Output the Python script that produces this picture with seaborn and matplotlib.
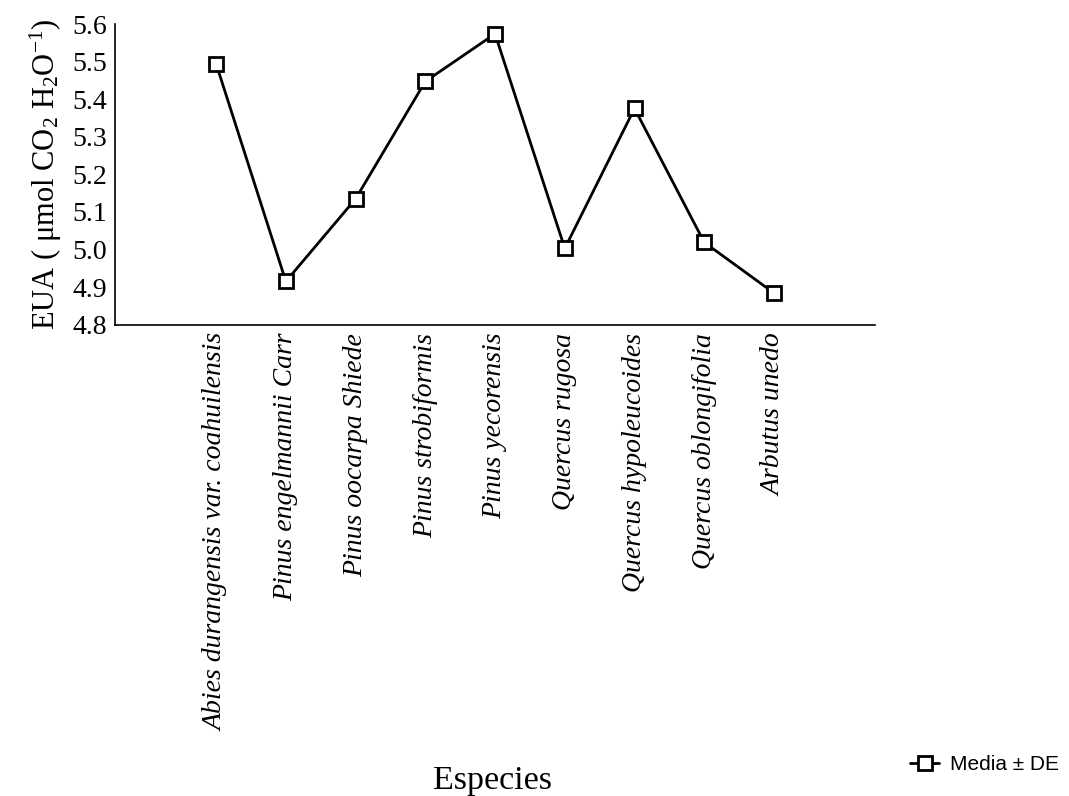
import matplotlib
matplotlib.use("Agg")
import matplotlib.pyplot as plt
import seaborn as sns
import pandas as pd
from matplotlib.lines import Line2D

species = [
    "Abies durangensis var. coahuilensis",
    "Pinus engelmannii Carr",
    "Pinus oocarpa Shiede",
    "Pinus strobiformis",
    "Pinus yecorensis",
    "Quercus rugosa",
    "Quercus hypoleucoides",
    "Quercus oblongifolia",
    "Arbutus unedo",
]
eua = [5.495, 4.915, 5.135, 5.448, 5.575, 5.003, 5.376, 5.019, 4.884]
yticks = [4.8, 4.9, 5.0, 5.1, 5.2, 5.3, 5.4, 5.5, 5.6]

sns.set_theme(style="white")
plt.rcParams["font.family"] = ["Liberation Serif", "DejaVu Serif"]
plt.rcParams["mathtext.fontset"] = "custom"
plt.rcParams["mathtext.rm"] = "Liberation Serif"
plt.rcParams["mathtext.it"] = "Liberation Serif:italic"
for k in ["text.color", "axes.labelcolor", "xtick.color", "ytick.color", "axes.edgecolor"]:
    plt.rcParams[k] = "black"

df = pd.DataFrame({"Especies": species, "EUA": eua})

fig = plt.figure(figsize=(10.69, 7.96), dpi=100)
ax = fig.add_axes([0.1076, 0.5923, 0.711, 0.377])

sns.lineplot(data=df, x="Especies", y="EUA", sort=False, ax=ax, color="black",
             linewidth=2.0, marker="s", markersize=10, markerfacecolor="white",
             markeredgecolor="black", markeredgewidth=2.0)

ax.set_xlim(-1.45, 9.45)
ax.set_ylim(4.8, 5.6)
ax.set_yticks(yticks)
ax.set_yticklabels([f"{v:.1f}" for v in yticks], fontsize=20)
ax.set_xticks(range(len(species)))
ax.set_xticklabels(species, rotation=90, fontsize=20, style="italic", va="top")
ax.tick_params(axis="both", length=0, pad=6)

for s in ["top", "right"]:
    ax.spines[s].set_visible(False)
for s in ["left", "bottom"]:
    ax.spines[s].set_color("black")
    ax.spines[s].set_linewidth(1.2)

ax.set_ylabel("EUA ( μmol CO$_2$ H$_2$O$^{-1}$)", fontsize=22, labelpad=6)
ax.set_xlabel("")
fig.text(0.461, 0.0, "Especies", fontsize=24.5, ha="center", va="bottom")

handle = Line2D([], [], color="black", linewidth=2.0, marker="s", markersize=10,
                markerfacecolor="white", markeredgecolor="black", markeredgewidth=2.0)
fig.legend([handle], ["Media ± DE"], loc="lower right", bbox_to_anchor=(1.008, 0.004),
           frameon=False, prop={"family": "Liberation Sans", "size": 15},
           handlelength=1.4, handletextpad=0.5)

fig.savefig("out.png", dpi=100)
